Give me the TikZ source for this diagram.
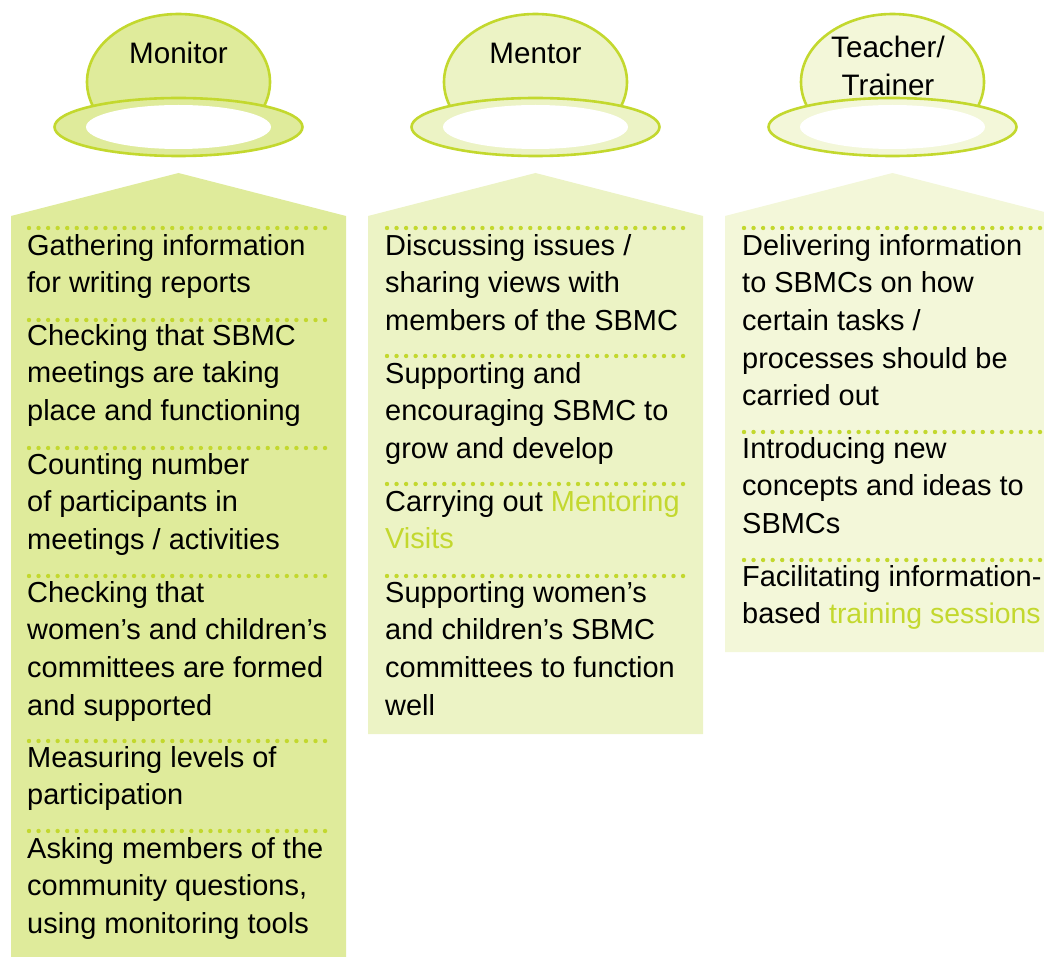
\documentclass[tikz,border=0pt]{standalone}
\usepackage{fontspec}
\setmainfont{Liberation Sans}
\definecolor{lime}{HTML}{C3D82E}
\definecolor{fillA}{HTML}{DFEB9B}
\definecolor{fillB}{HTML}{ECF3C5}
\definecolor{fillC}{HTML}{F3F7D9}
\tikzset{
  bowl/.style={draw=lime,line width=2.6pt},
  hole/.style={fill=white,draw=none},
  dotrow/.style={draw=lime,line width=4.4pt,line cap=round,dash pattern=on 0pt off 9.55pt},
  head/.style={font=\fontsize{29.6}{38}\selectfont,align=center,inner sep=0pt,anchor=base},
  item/.style={font=\fontsize{28.95}{37.6}\selectfont,align=left,inner sep=0pt,anchor=north west},
}
\newcommand{\hatshape}[2]{%
  \filldraw[bowl,fill=#2] (#1,82) ellipse [x radius=91.5,y radius=68];
  \filldraw[bowl,fill=#2] (#1,127) ellipse [x radius=124,y radius=29];
  \fill[hole] (#1,127) ellipse [x radius=92.5,y radius=22];
}
\newcommand{\panelshape}[4]{%
  \fill[#4] (#1,216) -- (#2,173) -- (#1+335,216) -- (#1+335,#3) -- (#1,#3) -- cycle;
}
\begin{document}
\begin{tikzpicture}[x=1pt,y=-1pt]
\useasboundingbox (0,0) rectangle (1044,957);
\clip (0,0) rectangle (1044,957);
% Monitor
\hatshape{178.5}{fillA}
\node[head] (tA) at (178.5,63.5) {Monitor};
\panelshape{11}{178.5}{957}{fillA}
% Mentor
\hatshape{535.5}{fillB}
\node[head] (tB) at (535.5,63.5) {Mentor};
\panelshape{368}{535.5}{734}{fillB}
% Teacher
\hatshape{892.5}{fillC}
\node[head] (tC) at (888,58) {Teacher/};
\node[head] (tD) at (888,95.5) {Trainer};
\panelshape{725}{892.5}{652}{fillC}
% dotted rules
\foreach \yy in {228,320,448,576,741,831} {\draw[dotrow] (29,\yy) -- (332,\yy);}
\foreach \yy in {228,356,484,576} {\draw[dotrow] (387,\yy) -- (689,\yy);}
\foreach \yy in {228,432,560} {\draw[dotrow] (744,\yy) -- (1046,\yy);}
% Monitor items
\node[item] (a1) at (27,228.7) {\strut Gathering information\\for writing reports};
\node[item] (a2) at (27,318.7) {\strut Checking that SBMC\\meetings are taking\\place and functioning};
\node[item] (a3) at (27,447.7) {\strut Counting number\\of participants in\\meetings / activities};
\node[item] (a4) at (27,575.7) {\strut Checking that\\women’s and children’s\\committees are formed\\and supported};
\node[item] (a5) at (27,740.7) {\strut Measuring levels of\\participation};
\node[item] (a6) at (27,831.7) {\strut Asking members of the\\community questions,\\using monitoring tools};
% Mentor items
\node[item] (b1) at (385,228.7) {\strut Discussing issues /\\sharing views with\\members of the SBMC};
\node[item] (b2) at (385,356.7) {\strut Supporting and\\encouraging SBMC to\\grow and develop};
\node[item] (b3) at (385,484.7) {\strut Carrying out \textcolor{lime}{Mentoring}\\\textcolor{lime}{Visits}};
\node[item] (b4) at (385,575.7) {\strut Supporting women’s\\and children’s SBMC\\committees to function\\well};
% Teacher items
\node[item] (c1) at (742,228.7) {\strut Delivering information\\to SBMCs on how\\certain tasks /\\processes should be\\carried out};
\node[item] (c2) at (742,431.7) {\strut Introducing new\\concepts and ideas to\\SBMCs};
\node[item] (c3) at (742,559.7) {\strut Facilitating information-\\based \textcolor{lime}{\fontsize{28.4}{37.6}\selectfont training sessions}};
\end{tikzpicture}
\end{document}
